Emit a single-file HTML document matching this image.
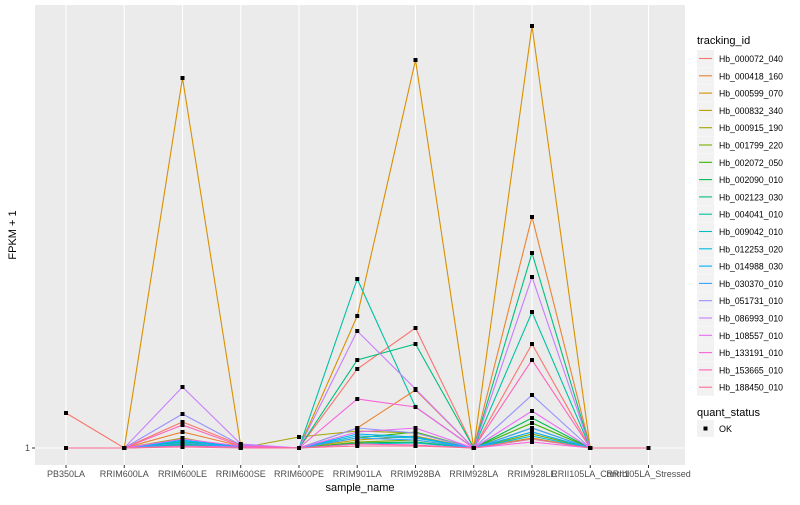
<!DOCTYPE html>
<html><head><meta charset="utf-8"><style>
body{margin:0;background:#fff;}
svg text{font-family:"Liberation Sans",sans-serif;}
</style></head><body>
<svg id="chart" width="800" height="500" xmlns="http://www.w3.org/2000/svg">
<rect x="35" y="5" width="650" height="460" fill="#EBEBEB"/>
<g id="grid"></g><g id="lines"></g><g id="points"></g><g id="axes"></g><g id="legend"></g>
<text x="360" y="491" font-size="11" text-anchor="middle" fill="#000">sample_name</text>
<text transform="translate(16,235) rotate(-90)" font-size="11" text-anchor="middle" fill="#000">FPKM + 1</text>
</svg>
<script>
const categories=["PB350LA","RRIM600LA","RRIM600LE","RRIM600SE","RRIM600PE","RRIM901LA","RRIM928BA","RRIM928LA","RRIM928LE","RRII105LA_Control","RRII105LA_Stressed"];
const seriesNames=["Hb_000072_040","Hb_000418_160","Hb_000599_070","Hb_000832_340","Hb_000915_190","Hb_001799_220","Hb_002072_050","Hb_002090_010","Hb_002123_030","Hb_004041_010","Hb_009042_010","Hb_012253_020","Hb_014988_030","Hb_030370_010","Hb_051731_010","Hb_086993_010","Hb_108557_010","Hb_133191_010","Hb_153665_010","Hb_188450_010"];
const seriesColors=["#F8766D","#EA8331","#D89000","#C09B00","#A3A500","#7CAE00","#39B600","#00BB4E","#00BF7D","#00C1A3","#00BFC4","#00BAE0","#00B0F6","#35A2FF","#9590FF","#C77CFF","#E76BF3","#FA62DB","#FF62BC","#FF6C91"];
const s0=[35,0,26,3,0,79,120,0,104,0,0];
const s1=[0,0,16,2,0,20,58,0,231,0,0];
const s2=[0,0,370,2,0,132,388,0,422,0,0];
const s3=[0,0,5,1,0,8,12,0,10,0,0];
const s4=[0,0,10,0,11,17,15,0,20,0,0];
const s5=[0,0,4,1,0,6,8,0,14,0,0];
const s6=[0,0,3,1,0,10,16,0,25,0,0];
const s7=[0,0,2,1,0,5,6,0,30,0,0];
const s8=[0,0,6,2,0,88,104,0,195,0,0];
const s9=[0,0,4,2,0,169,41,0,136,0,0];
const s10=[0,0,3,1,0,4,5,0,9,0,0];
const s11=[0,0,7,1,0,12,10,0,12,0,0];
const s12=[0,0,8,1,0,14,11,0,16,0,0];
const s13=[0,0,5,1,0,10,8,0,20,0,0];
const s14=[0,0,34,3,0,20,15,0,53,0,0];
const s15=[0,0,61,4,0,117,59,0,171,0,0];
const s16=[0,0,9,2,0,16,20,0,37,0,0];
const s17=[0,0,2,1,0,49,41,0,6,0,0];
const s18=[0,0,23,2,0,4,3,0,88,0,0];
const s19=[0,0,1,0,0,2,2,0,9,0,0];
const seriesValues=[s0,s1,s2,s3,s4,s5,s6,s7,s8,s9,s10,s11,s12,s13,s14,s15,s16,s17,s18,s19];
const yTicks=[1];

const NS="http://www.w3.org/2000/svg";
function mk(t,a,p){const e=document.createElementNS(NS,t);for(const k in a)e.setAttribute(k,a[k]);p.appendChild(e);return e;}
function xs(i){return 66+i*58.25;}
function ys(v){return 448-(v-1)*1;}
const grid=document.getElementById('grid'),lines=document.getElementById('lines'),pts=document.getElementById('points'),axes=document.getElementById('axes'),leg=document.getElementById('legend');
yTicks.forEach(t=>{
 const g=mk('line',{x1:35,x2:685,y1:ys(t),y2:ys(t),stroke:'#fff','stroke-width':1.1},grid);
 
 
 const tk=mk('line',{x1:32,x2:35,y1:ys(t),y2:ys(t),stroke:'#333'},axes);
 
 
 const tx=mk('text',{x:30,y:ys(t)+3,'font-size':9,'text-anchor':'end',fill:'#4d4d4d'},axes);
 tx.textContent=t;
 
 
});
categories.forEach((c,i)=>{
 const g=mk('line',{x1:xs(i),x2:xs(i),y1:5,y2:465,stroke:'#fff','stroke-width':1.1},grid);
 
 
 const tk=mk('line',{x1:xs(i),x2:xs(i),y1:465,y2:468,stroke:'#333'},axes);
 
 
 const tx=mk('text',{x:xs(i),y:477,'font-size':9,'text-anchor':'middle',fill:'#4d4d4d'},axes);
 tx.textContent=c;
 
 
});
seriesValues.forEach((arr,si)=>{
 const d=arr.map((v,i)=>(i?'L':'M')+xs(i)+','+ys(v+1)).join(' ');
 const p=mk('path',{d:d,fill:'none',stroke:seriesColors[si],'stroke-width':1.1},lines);
 
 
 arr.forEach((v,i)=>{
  const r=mk('rect',{x:xs(i)-2,y:ys(v+1)-2,width:4,height:4,fill:'#000'},pts);
  
  
 });
});
const lt=mk('text',{x:697,y:44,'font-size':11,fill:'#000'},leg);
lt.textContent='tracking_id';


seriesNames.forEach((n,i)=>{
 const y=50+i*17.3;
 const g=mk('g',{},leg);
 
 
 mk('rect',{x:697,y:y,width:17,height:17,fill:'#F2F2F2'},g);
 mk('line',{x1:699,x2:712,y1:y+8.5,y2:y+8.5,stroke:seriesColors[i],'stroke-width':1.1},g);
 const t=mk('text',{x:719,y:y+12,'font-size':9,fill:'#000',textLength:64,lengthAdjust:'spacingAndGlyphs'},g);
 t.textContent=n;
});
const qt=mk('text',{x:697,y:416,'font-size':11,fill:'#000'},leg);
qt.textContent='quant_status';


const qg=mk('g',{},leg);


mk('rect',{x:697,y:420,width:17,height:17,fill:'#F2F2F2'},qg);
mk('rect',{x:703.5,y:426.5,width:4,height:4,fill:'#000'},qg);
const ok=mk('text',{x:719,y:432,'font-size':9,fill:'#000'},qg);
ok.textContent='OK';
</script>
</body></html>
